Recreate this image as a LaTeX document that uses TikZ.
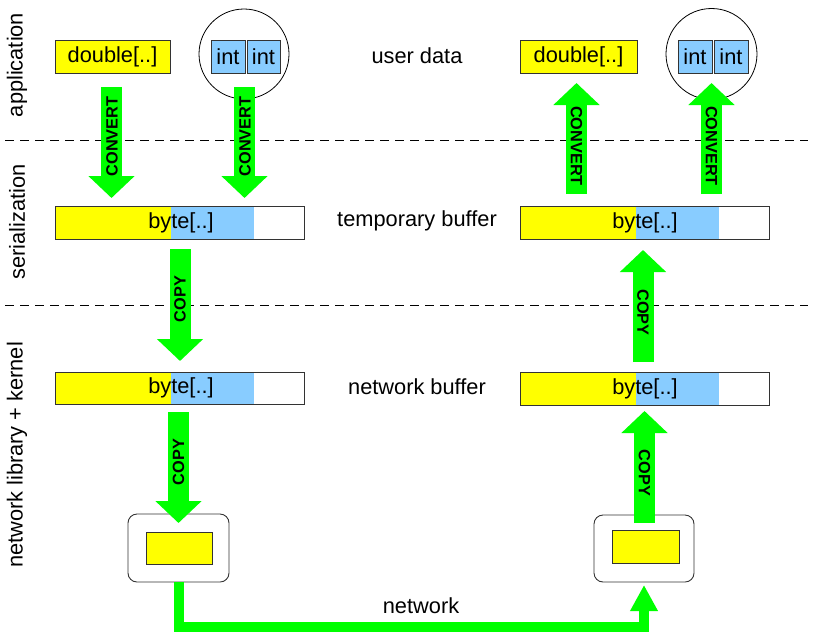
\documentclass[tikz,border=0pt]{standalone}
\usepackage{fontspec}
\setmainfont{Liberation Sans}
\usetikzlibrary{arrows.meta}
\definecolor{ylw}{RGB}{255,255,0}
\definecolor{blu}{RGB}{136,204,255}
\definecolor{grn}{RGB}{0,255,0}
\definecolor{bord}{RGB}{51,51,51}
\begin{document}
\begin{tikzpicture}[x=1pt,y=-1pt,
  txt/.style={font=\fontsize{21.8}{25}\selectfont, inner sep=0pt},
  lbl/.style={font=\bfseries\fontsize{16.3}{18}\selectfont, inner sep=0pt},
  box/.style={draw=bord, line width=0.9pt, inner sep=0pt, outer sep=0pt, anchor=north west, font=\fontsize{21.8}{25}\selectfont},
  bigarr/.style={draw=grn, line width=21pt, -{Triangle[width=45pt,length=22pt]}},
  netarr/.style={draw=grn, line width=10pt, line join=miter, -{Triangle[width=26pt,length=26pt]}},
  sepline/.style={line width=0.8pt, dash pattern=on 9pt off 6pt}
]
\useasboundingbox (0,0) rectangle (813,635);
% separators
\coordinate (s1a) at (5,140); \coordinate (s1b) at (808,140);
\coordinate (s2a) at (5,305); \coordinate (s2b) at (808,305);
\draw[sepline] (s1a) -- (s1b);
\draw[sepline] (s2a) -- (s2b);
% layer labels
\node[txt, rotate=90] (lapp) at (17,65) {application};
\node[txt, rotate=90] (lser) at (17,222) {serialization};
\node[txt, rotate=90] (lnet) at (17,455) {network library + kernel};
% middle labels
\node[txt] (tud) at (417,56) {user data};
\node[txt] (ttb) at (417,221) {temporary buffer};
\node[txt] (tnb) at (417,387) {network buffer};
\node[txt] (tnw) at (421,606) {network};
% user data left
\node[box, fill=ylw, minimum width=115pt, minimum height=33pt] (dblL) at (55,40) {double[..]};
\node[draw, circle, line width=0.8pt, minimum size=90pt, inner sep=0pt] (cirL) at (244,54) {};
\node[box, fill=blu, minimum width=34pt, minimum height=33pt] (intL1) at (211,40) {int};
\node[box, fill=blu, minimum width=33pt, minimum height=33pt] (intL2) at (247,40) {int};
% user data right
\node[box, fill=ylw, minimum width=117pt, minimum height=33pt] (dblR) at (520,40) {double[..]};
\node[draw, circle, line width=0.8pt, minimum size=91pt, inner sep=0pt] (cirR) at (711.5,54) {};
\node[box, fill=blu, minimum width=34pt, minimum height=33pt] (intR1) at (678,40) {int};
\node[box, fill=blu, minimum width=34pt, minimum height=33pt] (intR2) at (714,40) {int};
% temporary buffers
\fill[ylw] (55,206) rectangle (171,239);
\fill[blu] (171,206) rectangle (254,239);
\node[box, minimum width=249pt, minimum height=33pt] (tmpL) at (55,206) {};
\node[txt] (tmpLt) at (181,222.5) {byte[..]};
\fill[ylw] (520,206) rectangle (636,239);
\fill[blu] (636,206) rectangle (719,239);
\node[box, minimum width=249pt, minimum height=33pt] (tmpR) at (520,206) {};
\node[txt] (tmpRt) at (645,222.5) {byte[..]};
% network buffers
\fill[ylw] (55,372) rectangle (171,404);
\fill[blu] (171,372) rectangle (254,404);
\node[box, minimum width=249pt, minimum height=32pt] (netL) at (55,372) {};
\node[txt] (netLt) at (181,388) {byte[..]};
\fill[ylw] (520,372) rectangle (636,405);
\fill[blu] (636,372) rectangle (719,405);
\node[box, minimum width=249pt, minimum height=33pt] (netR) at (520,372) {};
\node[txt] (netRt) at (645,388.5) {byte[..]};
% NICs
\node[box, rounded corners=9pt, minimum width=101pt, minimum height=68pt] (nicL) at (128,514) {};
\node[box, fill=ylw, minimum width=66pt, minimum height=32pt] (bufL) at (146,532) {};
\node[box, rounded corners=9pt, minimum width=100pt, minimum height=67pt] (nicR) at (594,515) {};
\node[box, fill=ylw, minimum width=67pt, minimum height=33pt] (bufR) at (612,530) {};
% arrows left (down)
\coordinate (c1s) at (111.5,87);  \coordinate (c1e) at (111.5,198);
\coordinate (c2s) at (244.5,87);  \coordinate (c2e) at (244.5,198);
\coordinate (p1s) at (180,249);   \coordinate (p1e) at (180,361);
\coordinate (p2s) at (178.5,412); \coordinate (p2e) at (178.5,523);
\draw[bigarr] (c1s) -- (c1e);
\draw[bigarr] (c2s) -- (c2e);
\draw[bigarr] (p1s) -- (p1e);
\draw[bigarr] (p2s) -- (p2e);
\node[lbl, rotate=90] at (112,136.5) {CONVERT};
\node[lbl, rotate=90] at (245,136.5) {CONVERT};
\node[lbl, rotate=90] at (180,299) {COPY};
\node[lbl, rotate=90] at (178.5,462) {COPY};
% arrows right (up)
\coordinate (c3s) at (576.5,194); \coordinate (c3e) at (576.5,83);
\coordinate (c4s) at (711.5,194); \coordinate (c4e) at (711.5,83);
\coordinate (p3s) at (643,362);   \coordinate (p3e) at (643,250);
\coordinate (p4s) at (644.5,523); \coordinate (p4e) at (644.5,411);
\draw[bigarr] (c3s) -- (c3e);
\draw[bigarr] (c4s) -- (c4e);
\draw[bigarr] (p3s) -- (p3e);
\draw[bigarr] (p4s) -- (p4e);
\node[lbl, rotate=-90] at (576.5,146) {CONVERT};
\node[lbl, rotate=-90] at (711.5,146) {CONVERT};
\node[lbl, rotate=-90] at (643,312.5) {COPY};
\node[lbl, rotate=-90] at (644.5,473) {COPY};
% network
\coordinate (nb) at (0,627);
\draw[netarr] (nicL.south) -- (nicL.south |- nb) -| ([yshift=-3pt]nicR.south);
\end{tikzpicture}
\end{document}
